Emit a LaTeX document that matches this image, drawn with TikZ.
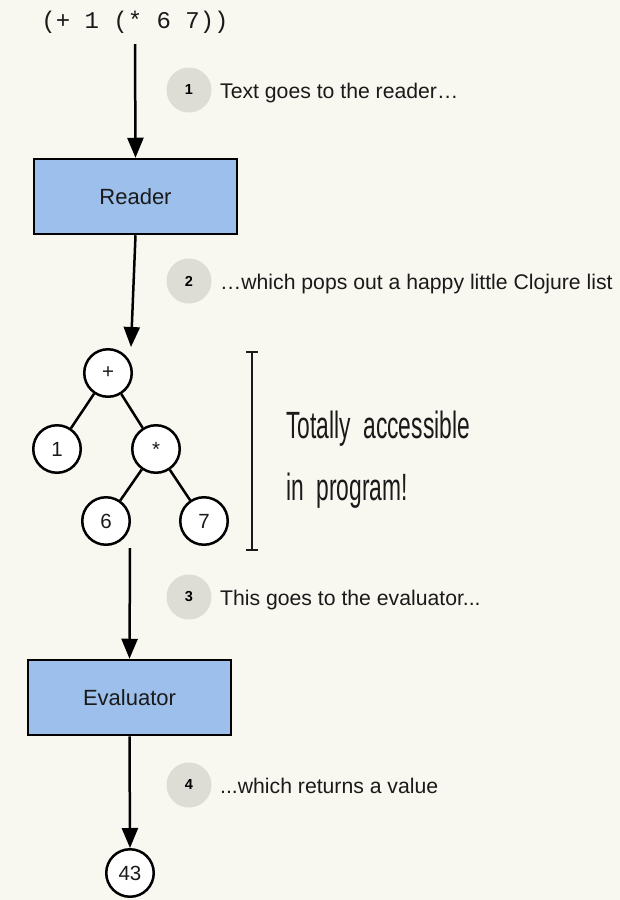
\documentclass[tikz,border=0pt]{standalone}
\usepackage{fontspec}
\setmainfont{Liberation Sans}
\setmonofont{Liberation Mono}
\newfontfamily\handfont[FakeStretch=0.6]{Liberation Sans}
\usetikzlibrary{arrows.meta}
\definecolor{paper}{HTML}{F8F7F0}
\definecolor{boxblue}{HTML}{9CC0EB}
\definecolor{badgegray}{HTML}{DDDDD5}
\definecolor{ink}{HTML}{1A1A1A}
\tikzset{
  stage/.style={draw=black, line width=2.5pt, fill=boxblue, minimum width=203pt,
    minimum height=75pt, inner sep=0pt, text=ink, font=\fontsize{22}{26}\selectfont},
  atom/.style={circle, draw=black, line width=2.5pt, fill=white, minimum size=47.5pt,
    inner sep=0pt, text=ink, font=\fontsize{20.5}{24}\selectfont},
  badge/.style={circle, fill=badgegray, minimum size=45pt, inner sep=0pt,
    font=\fontsize{14.5}{16}\selectfont\bfseries},
  note/.style={anchor=base west, inner sep=0pt, text=ink, font=\fontsize{21.2}{25}\selectfont},
  hand/.style={anchor=base west, inner sep=0pt, text=ink, font=\handfont\fontsize{38}{40}\selectfont},
  flow/.style={line width=2.5pt, -{Triangle[length=20pt,width=16pt]}},
  branch/.style={line width=2.5pt},
}
\begin{document}
\begin{tikzpicture}[x=1pt, y=-1pt]
  \fill[paper] (0,0) rectangle (620,900);
  \useasboundingbox (0,0) rectangle (620,900);
  % source text and the two stages
  \node[text=ink, font=\ttfamily\fontsize{24}{28}\selectfont] (code) at (135,22) {(+ 1 (* 6 7))};
  \node[stage] (reader) at (135.5,196.5) {Reader};
  \node[stage] (eval) at (129.5,697.5) {Evaluator};
  % the list as a tree
  \node[atom] (plus) at (108,373) {+};
  \node[atom] (one) at (57,449) {1};
  \node[atom] (times) at (156,449) {*};
  \node[atom] (six) at (106,521) {6};
  \node[atom] (seven) at (204,521) {7};
  \node[atom] (result) at (130,873) {43};
  \foreach \a/\b in {plus/one, plus/times, times/six, times/seven}
    \draw[branch] (\a) -- (\b);
  % arrows
  \coordinate (codeout) at (135,44);
  \coordinate (treein) at (131,347);
  \coordinate (treeout) at (130,548);
  \draw[flow] (codeout) -- (reader.north);
  \draw[flow] (reader.south) -- (treein);
  \draw[flow] (treeout) -- (eval.north);
  \draw[flow] (eval.south) -- (result.north);
  % numbered steps
  \foreach \i/\y/\t in {1/90/{Text goes to the reader…},
      2/281/{…which pops out a happy little Clojure list},
      3/597/{This goes to the evaluator...},
      4/785/{...which returns a value}} {
    \node[badge] (badge\i) at (189,\y) {\i};
    \node[note] (note\i) at (220,\y+8) {\t};
  }
  % bracket and remark
  \coordinate (brtop) at (252,352);
  \coordinate (brbot) at (252,550);
  \draw[line width=1.6pt, ink] ([xshift=-6pt]brtop) -- ([xshift=6pt]brtop)
    (brtop) -- (brbot) ([xshift=-6pt]brbot) -- ([xshift=6pt]brbot);
  \node[hand] (remark1) at (286,438) {Totally\ \ accessible};
  \node[hand] (remark2) at (286,500) {in\ \ program!};
\end{tikzpicture}
\end{document}
